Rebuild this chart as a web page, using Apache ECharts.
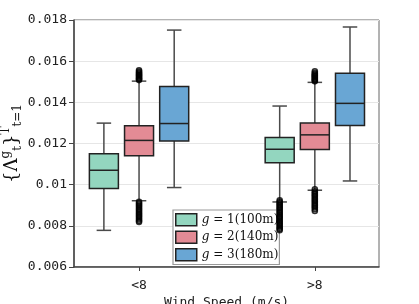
<!DOCTYPE html>
<html><head><meta charset="utf-8">
<script src="https://cdn.jsdelivr.net/npm/echarts@6/dist/echarts.min.js"></script>
<style>html,body{margin:0;padding:0;background:#fff}#c{width:419px;height:304px}</style>
</head><body><div id="c"></div>
<script>
// ---- data ----
const categories = ['<8', '>8'];
const seriesNames = ['g = 1(100m)', 'g = 2(140m)', 'g = 3(180m)'];
// [min, Q1, median, Q3, max] for each category
const boxG1 = [[0.00778, 0.00981, 0.01070, 0.01150, 0.01299], [0.00916, 0.01106, 0.01172, 0.01229, 0.01382]];
const boxG2 = [[0.00922, 0.01140, 0.01215, 0.01286, 0.01503], [0.00973, 0.01171, 0.01242, 0.01299, 0.01497]];
const boxG3 = [[0.00986, 0.01212, 0.01297, 0.01477, 0.01751], [0.01018, 0.01288, 0.01395, 0.01541, 0.01766]];
// outliers for each category
const outG1 = [[], [0.00924, 0.00917, 0.00911, 0.00904, 0.00897, 0.00890, 0.00884, 0.00877, 0.00869, 0.00862, 0.00855, 0.00848, 0.00842, 0.00835, 0.00827, 0.00820, 0.00813, 0.00806, 0.00799, 0.00792, 0.00785, 0.00779]];
const outG2 = [[0.01508, 0.01512, 0.01516, 0.01521, 0.01525, 0.01530, 0.01534, 0.01539, 0.01544, 0.01549, 0.01556,
                0.00917, 0.00910, 0.00903, 0.00896, 0.00889, 0.00882, 0.00875, 0.00867, 0.00860, 0.00853, 0.00846, 0.00839, 0.00832, 0.00825, 0.00819],
               [0.01502, 0.01506, 0.01511, 0.01515, 0.01520, 0.01524, 0.01529, 0.01533, 0.01538, 0.01543, 0.01551,
                0.00978, 0.00968, 0.00961, 0.00954, 0.00947, 0.00940, 0.00932, 0.00925, 0.00918, 0.00911, 0.00903, 0.00896, 0.00889, 0.00881, 0.00872]];
const outG3 = [[], []];
const yTickLabels = ['0.006', '0.008', '0.01', '0.012', '0.014', '0.016', '0.018'];

// ---- style ----
const colors = ['#93d6bf', '#e38b95', '#69a6d4'];
const hueOffset = [-0.2, 0, 0.2];
const BOX_W = 0.165;
const mono = 'DejaVu Sans Mono';
const serif = 'DejaVu Serif';

const boxes = [boxG1, boxG2, boxG3];
const outs = [outG1, outG2, outG3];

function makeRender(color) {
  return function (params, api) {
    const x = api.value(0);
    const c = v => api.coord([x, v]);
    const pMin = c(api.value(1)), pQ1 = c(api.value(2)), pMed = c(api.value(3)), pQ3 = c(api.value(4)), pMax = c(api.value(5));
    const bw = api.size([BOX_W, 0])[0];
    const cw = bw / 2;
    const cx = pMed[0];
    const ws = { stroke: '#4a4a4a', lineWidth: 1.5 };
    return {
      type: 'group', children: [
        { type: 'line', shape: { x1: cx, y1: pQ1[1], x2: cx, y2: pMin[1] }, style: ws },
        { type: 'line', shape: { x1: cx, y1: pQ3[1], x2: cx, y2: pMax[1] }, style: ws },
        { type: 'line', shape: { x1: cx - cw / 2, y1: pMin[1], x2: cx + cw / 2, y2: pMin[1] }, style: ws },
        { type: 'line', shape: { x1: cx - cw / 2, y1: pMax[1], x2: cx + cw / 2, y2: pMax[1] }, style: ws },
        { type: 'rect', shape: { x: cx - bw / 2, y: pQ3[1], width: bw, height: pQ1[1] - pQ3[1] }, style: { fill: color, stroke: '#222', lineWidth: 1.5 } },
        { type: 'line', shape: { x1: cx - bw / 2, y1: pMed[1], x2: cx + bw / 2, y2: pMed[1] }, style: { stroke: '#222', lineWidth: 1.5 } }
      ]
    };
  };
}

const series = [];
boxes.forEach((b, h) => {
  series.push({
    name: seriesNames[h], type: 'custom', renderItem: makeRender(colors[h]),
    itemStyle: { color: colors[h], borderColor: '#222', borderWidth: 1.5 },
    encode: { x: 0, y: [1, 2, 3, 4, 5] },
    data: b.map((v, i) => [i + hueOffset[h]].concat(v)), z: 2
  });
});
outs.forEach((o, h) => {
  const d = [];
  o.forEach((vals, i) => vals.forEach(v => d.push([i + hueOffset[h], v])));
  series.push({
    name: 'out' + h, type: 'scatter', data: d, symbol: 'circle', symbolSize: 5,
    itemStyle: { color: 'rgba(0,0,0,0)', borderColor: '#000', borderWidth: 1.6 }, z: 6, silent: true
  });
});

const chart = echarts.init(document.getElementById('c'), null, { renderer: 'canvas' });
chart.setOption({
  animation: false,
  backgroundColor: '#fff',
  grid: { left: 74, top: 20, right: 40, bottom: 37, show: true, borderColor: '#666', borderWidth: 1, containLabel: false, outerBoundsMode: 'none' },
  xAxis: {
    type: 'value', min: -0.37, max: 1.365,
    name: 'Wind Speed (m/s)', nameLocation: 'middle', nameGap: 29, nameMoveOverlap: false,
    nameTextStyle: { fontFamily: mono, fontSize: 13, color: '#222' },
    axisLine: { show: true, onZero: false, lineStyle: { color: '#444', width: 1.5 } },
    axisTick: { show: true, customValues: [0, 1], length: 4, lineStyle: { color: '#444' } },
    axisLabel: { customValues: [0, 1], margin: 12, fontFamily: mono, fontSize: 13, color: '#222', formatter: v => categories[Math.round(v)] },
    splitLine: { show: false }
  },
  yAxis: {
    type: 'value', min: 0.006, max: 0.018, interval: 0.002,
    name: '{Λ{p|g}{s|t}}{p|T}{s|t=1}', nameLocation: 'middle', nameRotate: 90, nameGap: 50, nameMoveOverlap: false,
    nameTextStyle: {
      fontFamily: serif, fontSize: 18, color: '#111', lineHeight: 24,
      rich: {
        p: { fontFamily: serif, fontSize: 12, verticalAlign: 'top', color: '#111' },
        s: { fontFamily: serif, fontSize: 12, verticalAlign: 'bottom', color: '#111' }
      }
    },
    axisLine: { show: true, onZero: false, lineStyle: { color: '#444', width: 1.5 } },
    axisTick: { show: true, length: 5, lineStyle: { color: '#444' } },
    axisLabel: { margin: 7, fontFamily: mono, fontSize: 13, color: '#222', formatter: v => yTickLabels[Math.round((v - 0.006) / 0.002)] },
    splitLine: { show: true, lineStyle: { color: '#e6e6e6', width: 1 } }
  },
  legend: {
    data: seriesNames.map((n, i) => ({ name: n, icon: 'rect', itemStyle: { color: colors[i], borderColor: '#222', borderWidth: 1.5 } })),
    orient: 'vertical', left: 173, top: 210, itemWidth: 21, itemHeight: 12, itemGap: 4,
    padding: [3, 1, 3, 2], borderColor: '#999', borderWidth: 1.2, backgroundColor: '#fff', z: 4,
    formatter: n => '{i|g}' + n.slice(1),
    textStyle: { fontFamily: serif, fontSize: 12, color: '#111', rich: { i: { fontFamily: serif, fontStyle: 'italic', fontSize: 12, color: '#111' } } },
    selectedMode: false
  },
  series: series
});
</script>
</body></html>
